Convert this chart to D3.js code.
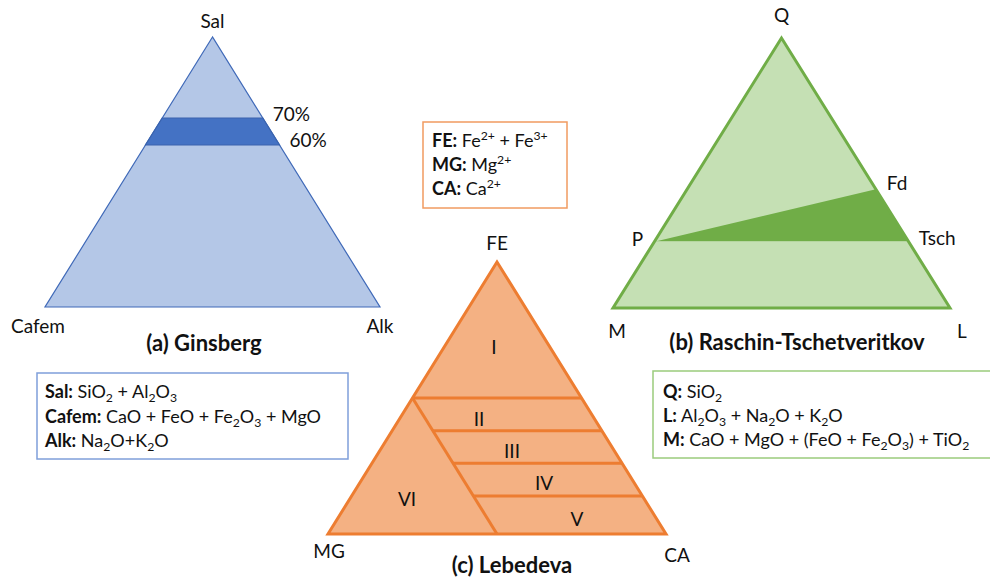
<!DOCTYPE html>
<html>
<head>
<meta charset="utf-8">
<script src="https://cdn.jsdelivr.net/npm/d3@7"></script>
<style>
  body { margin: 0; background: #fff; }
  text { font-family: Lato, "Open Sans", sans-serif; fill: #111; }
</style>
</head>
<body>
<svg id="chart" width="990" height="579"></svg>
<script>
// ---- (a) Ginsberg: Sal / Cafem / Alk -------------------------------------
const ginsbergCorners = ["Sal", "Cafem", "Alk"];      // apex, lower-left, lower-right
const ginsbergBand = [60, 70];                        // Sal %, limits of the shaded band
const ginsbergBandLabels = ["60%", "70%"];

// ---- (b) Raschin-Tschetveritkov: Q / M / L --------------------------------
const raschinCorners = ["Q", "M", "L"];
// named points, given as [Q, M, L] in %
const raschinPointNames = ["P", "Fd", "Tsch"];
const raschinPointQ = [24.5, 44, 24.5];
const raschinPointM = [75.5, 0, 0];
const raschinPointL = [0, 56, 75.5];

// ---- (c) Lebedeva: FE / MG / CA ------------------------------------------
const lebedevaCorners = ["FE", "MG", "CA"];
const lebedevaFeLevels = [50, 38, 26, 14];            // FE % of the horizontal field limits
const lebedevaMgLimit = 50;                           // MG % of the slanted field limit
const lebedevaFields = ["I", "II", "III", "IV", "V", "VI"];

// ---- component definitions (legend boxes) ---------------------------------
const ginsbergLegend = [
  "**Sal:** SiO_{2} + Al_{2}O_{3}",
  "**Cafem:** CaO + FeO + Fe_{2}O_{3} + MgO",
  "**Alk:** Na_{2}O+K_{2}O"
];
const lebedevaLegend = [
  "**FE:** Fe^{2+} + Fe^{3+}",
  "**MG:** Mg^{2+}",
  "**CA:** Ca^{2+}"
];
const raschinLegend = [
  "**Q:** SiO_{2}",
  "**L:** Al_{2}O_{3} + Na_{2}O + K_{2}O",
  "**M:** CaO + MgO + (FeO + Fe_{2}O_{3}) + TiO_{2}"
];

const svg = d3.select("#chart");
const FONT = 18;        // legend text
const LABEL = 19;       // corner / field labels
const TITLE = 22;       // diagram titles

// A ternary frame: apex component on the vertical scale, the
// lower-right component (plus half the apex) on the horizontal one.
function ternary(left, right, base, apex) {
  const x = d3.scaleLinear().domain([0, 100]).range([left, right]);
  const y = d3.scaleLinear().domain([0, 100]).range([base, apex]);
  // t = apex %, l = lower-left %, r = lower-right %
  const p = (t, l, r) => [x(r + t / 2), y(t)];
  p.x = x; p.y = y;
  return p;
}

const line = d3.line();
function poly(g, pts, fill, stroke, sw) {
  return g.append("path")
    .attr("d", line(pts) + "Z")
    .attr("fill", fill)
    .attr("stroke", stroke || "none")
    .attr("stroke-width", sw || 0)
    .attr("stroke-linejoin", "miter");
}
function label(g, txt, x, y, anchor, opts = {}) {
  return g.append("text")
    .attr("x", x).attr("y", y)
    .attr("text-anchor", anchor || "middle")
    .attr("font-size", opts.size || LABEL)
    .attr("font-weight", opts.bold ? "bold" : "normal")
    .attr("dominant-baseline", opts.baseline || "auto")
    .text(txt);
}

// Rich text: **bold**, _{sub}, ^{sup}
function richText(g, str, x, y) {
  const t = g.append("text").attr("x", x).attr("y", y).attr("font-size", FONT);
  const re = /\*\*([^*]+)\*\*|_\{([^}]+)\}|\^\{([^}]+)\}|([^*_^]+)/g;
  let m, shift = 0;
  while ((m = re.exec(str)) !== null) {
    let txt, weight = "normal", size = FONT, target = 0;
    if (m[1] !== undefined) { txt = m[1]; weight = "bold"; }
    else if (m[2] !== undefined) { txt = m[2]; size = FONT * 0.68; target = 4; }
    else if (m[3] !== undefined) { txt = m[3]; size = FONT * 0.68; target = -7; }
    else { txt = m[4]; }
    t.append("tspan")
      .attr("dy", target - shift)
      .attr("font-weight", weight)
      .attr("font-size", size)
      .text(txt);
    shift = target;
  }
  return t;
}
function legendBox(g, lines, x0, y0, x1, y1, stroke, tx, ty, step) {
  g.append("rect")
    .attr("x", x0).attr("y", y0)
    .attr("width", x1 - x0).attr("height", y1 - y0)
    .attr("fill", "#fff").attr("stroke", stroke).attr("stroke-width", 1.5);
  lines.forEach((s, i) => richText(g, s, tx, ty + i * step));
}

// =================== (a) Ginsberg ===================
{
  const g = svg.append("g");
  const T = ternary(45, 380, 307, 37);
  const blue = "#4472C4";
  const [top, bl, br] = [T(100, 0, 0), T(0, 100, 0), T(0, 0, 100)];
  poly(g, [top, bl, br], "#B4C7E7", "#3F69B8", 1.2);

  // band between the two Sal limits, bounded by the two side edges
  const [lo, hi] = ginsbergBand;
  const band = [T(hi, 100 - hi, 0), T(hi, 0, 100 - hi), T(lo, 0, 100 - lo), T(lo, 100 - lo, 0)];
  poly(g, band, blue, "#3A63AE", 1.2);

  ginsbergBand.forEach((v, i) => {
    const [ex, ey] = T(v, 0, 100 - v);
    label(g, ginsbergBandLabels[i], ex + 10, ey + (v === hi ? 3 : 2), "start");
  });

  label(g, ginsbergCorners[0], top[0], top[1] - 9);
  label(g, ginsbergCorners[1], bl[0] - 7, bl[1] + 26);
  label(g, ginsbergCorners[2], br[0], br[1] + 26);
  label(g, "(a) Ginsberg", 204, 351, "middle", { bold: true, size: TITLE });

  legendBox(g, ginsbergLegend, 37, 373, 348, 459, "#7F9FDA", 45, 398, 24.5);
}

// =================== (b) Raschin-Tschetveritkov ===================
{
  const g = svg.append("g");
  const T = ternary(613, 950, 308, 38);
  const green = "#70AD47";
  const [top, bl, br] = [T(100, 0, 0), T(0, 100, 0), T(0, 0, 100)];
  poly(g, [top, bl, br], "#C5E0B4", null, 0);

  const pts = raschinPointNames.map((n, i) => T(raschinPointQ[i], raschinPointM[i], raschinPointL[i]));
  poly(g, pts, green, null, 0);
  // limit P - Tsch
  g.append("path").attr("d", line([pts[0], pts[2]]))
    .attr("stroke", "#C5E0B4").attr("stroke-width", 1.2).attr("fill", "none");
  poly(g, [top, bl, br], "none", green, 3);

  label(g, raschinPointNames[0], pts[0][0] - 11, pts[0][1] + 4, "end");
  label(g, raschinPointNames[1], pts[1][0] + 11, pts[1][1] + 1, "start");
  label(g, raschinPointNames[2], pts[2][0] + 10, pts[2][1] + 3, "start");

  label(g, raschinCorners[0], top[0], top[1] - 16);
  label(g, raschinCorners[1], bl[0] + 4, bl[1] + 30);
  label(g, raschinCorners[2], br[0] + 12, br[1] + 30);
  label(g, "(b) Raschin-Tschetveritkov", 797, 350, "middle", { bold: true, size: TITLE });

  legendBox(g, raschinLegend, 653, 371, 996, 458, "#9BCB7C", 663, 398, 24);
}

// =================== (c) Lebedeva ===================
{
  const g = svg.append("g");
  const T = ternary(328, 666, 534, 262);
  const orange = "#ED7D31";
  const [top, bl, br] = [T(100, 0, 0), T(0, 100, 0), T(0, 0, 100)];
  poly(g, [top, bl, br], "#F4B183", null, 0);

  const mg = lebedevaMgLimit;
  const segs = [];
  // slanted limit MG = 50 %, from the left edge down to the base
  segs.push([T(100 - mg, mg, 0), T(0, mg, 100 - mg)]);
  // FE limits: the top one spans the whole width, the others start on MG = 50 %
  lebedevaFeLevels.forEach((fe, i) => {
    const start = i === 0 ? T(fe, 100 - fe, 0) : T(fe, mg, 100 - fe - mg);
    segs.push([start, T(fe, 0, 100 - fe)]);
  });
  g.selectAll("path.limit").data(segs).join("path")
    .attr("class", "limit")
    .attr("d", d => line(d))
    .attr("stroke", orange).attr("stroke-width", 3).attr("fill", "none");
  poly(g, [top, bl, br], "none", orange, 3);

  // field labels, placed in ternary units [FE, MG, CA]
  const fieldAt = [[68.8, 16.5, 14.7], [42.6, 34, 23.4], [30.7, 30.2, 39.1],
                   [19.1, 26.5, 54.4], [5.7, 23.5, 70.8], [13.2, 70, 16.8]];
  lebedevaFields.forEach((f, i) => {
    const [px, py] = T(...fieldAt[i]);
    label(g, f, px, py, "middle", { baseline: "central" });
  });

  label(g, lebedevaCorners[0], top[0], top[1] - 12);
  label(g, lebedevaCorners[1], bl[0] + 1, bl[1] + 24);
  label(g, lebedevaCorners[2], br[0] + 11, br[1] + 28);
  label(g, "(c) Lebedeva", 512, 573, "middle", { bold: true, size: TITLE });

  legendBox(g, lebedevaLegend, 423, 122, 567, 208, "#F19B60", 432, 147, 24);
}
</script>
</body>
</html>
